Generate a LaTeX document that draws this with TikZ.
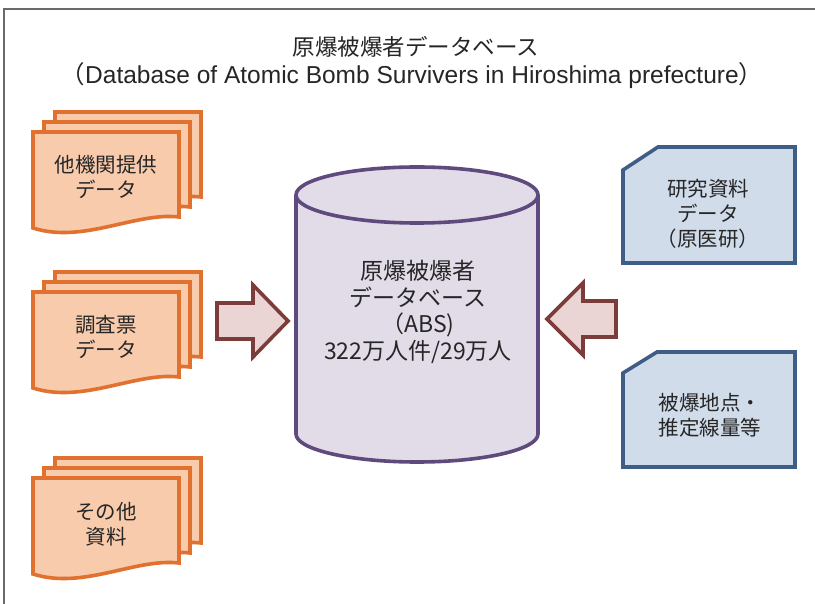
\documentclass[tikz,border=0pt]{standalone}
\usepackage{fontspec}
\setmainfont{Noto Sans CJK JP}
\newfontfamily\jpfont{Noto Sans CJK JP}
\newfontfamily\latfont{Liberation Sans}
\definecolor{docfill}{HTML}{F8CBAD}
\definecolor{docdraw}{HTML}{E0712F}
\definecolor{cylfill}{HTML}{E2DCE9}
\definecolor{cyldraw}{HTML}{5F4A7E}
\definecolor{arrfill}{HTML}{EBD4D4}
\definecolor{arrdraw}{HTML}{7B3C3A}
\definecolor{boxfill}{HTML}{D0DCEA}
\definecolor{boxdraw}{HTML}{3E5D87}
\definecolor{txt}{HTML}{262626}
\definecolor{frame}{HTML}{6A6A6A}
\tikzset{
  docsty/.style={fill=docfill, draw=docdraw, line width=3.6pt, line join=miter},
  cylsty/.style={fill=cylfill, draw=cyldraw, line width=3.6pt},
  arrsty/.style={fill=arrfill, draw=arrdraw, line width=3.6pt, line join=miter},
  boxsty/.style={fill=boxfill, draw=boxdraw, line width=3.6pt, line join=miter},
  boxtext/.style={text=txt, align=center, font=\jpfont\fontsize{20.5pt}{25pt}\selectfont},
  cyltext/.style={text=txt, align=center, font=\jpfont\fontsize{23pt}{26.5pt}\selectfont},
}
\newcommand\docsheet{\filldraw[docsty] (0,0) -- (146,0) -- (146,85) .. controls (102,80) and (50,112) .. (0,96) -- cycle;}
\newcommand\docstack[2]{%
  \begin{scope}[shift={(#1+22,#2-20)}]\docsheet\end{scope}
  \begin{scope}[shift={(#1+11,#2-10)}]\docsheet\end{scope}
  \begin{scope}[shift={(#1,#2)}]\docsheet\end{scope}}
\begin{document}
\begin{tikzpicture}[x=1pt,y=-1pt]
\useasboundingbox (0,0) rectangle (815,604);
\fill[white] (0,0) rectangle (815,604);
% frame
\draw[frame, line width=1.3pt] (4,604) -- (4,9) -- (815,9);
% title
\node[text=txt, font=\jpfont\fontsize{22.5pt}{26pt}\selectfont] (title1) at (416,47) {原爆被爆者データベース};
\node[text=txt, font=\latfont\fontsize{24.5pt}{27pt}\selectfont] (title2) at (412,76) {{\jpfont （}Database of Atomic Bomb Survivers in Hiroshima prefecture{\jpfont ）}};
% document stacks
\docstack{33}{132}
\docstack{33}{292}
\docstack{33}{478}
\node[boxtext] (doc1) at (106,177) {他機関提供\\データ};
\node[boxtext] (doc2) at (106,337) {調査票\\データ};
\node[boxtext] (doc3) at (106,524) {その他\\資料};
% cylinder
\fill[cylfill] (296,195) -- (296,434) .. controls (296,449.46) and (350.17,462) .. (417,462) .. controls (483.83,462) and (538,449.46) .. (538,434) -- (538,195) -- cycle;
\draw[cyldraw, line width=3.6pt] (296,195) -- (296,434) .. controls (296,449.46) and (350.17,462) .. (417,462) .. controls (483.83,462) and (538,449.46) .. (538,434) -- (538,195);
\filldraw[cylsty] (417,195) ellipse [x radius=121pt, y radius=28pt];
\node[cyltext] (db) at (418,312) {原爆被爆者\\データベース\\（ABS)\\322万人件/29万人};
% arrows
\filldraw[arrsty] (217,303) -- (253,303) -- (253,285) -- (288,321) -- (253,357) -- (253,339) -- (217,339) -- cycle;
\filldraw[arrsty] (616,301) -- (583,301) -- (583,283) -- (547,319) -- (583,355) -- (583,337) -- (616,337) -- cycle;
% right boxes
\filldraw[boxsty] (623,170) -- (658,147) -- (795,147) -- (795,263) -- (623,263) -- cycle;
\filldraw[boxsty] (623,373) -- (657,352) -- (795,352) -- (795,467) -- (623,467) -- cycle;
\node[boxtext] (res) at (708,214) {研究資料\\データ\\（原医研）};
\node[boxtext] (pt) at (710,415) {被爆地点・\\推定線量等};
\end{tikzpicture}
\end{document}
